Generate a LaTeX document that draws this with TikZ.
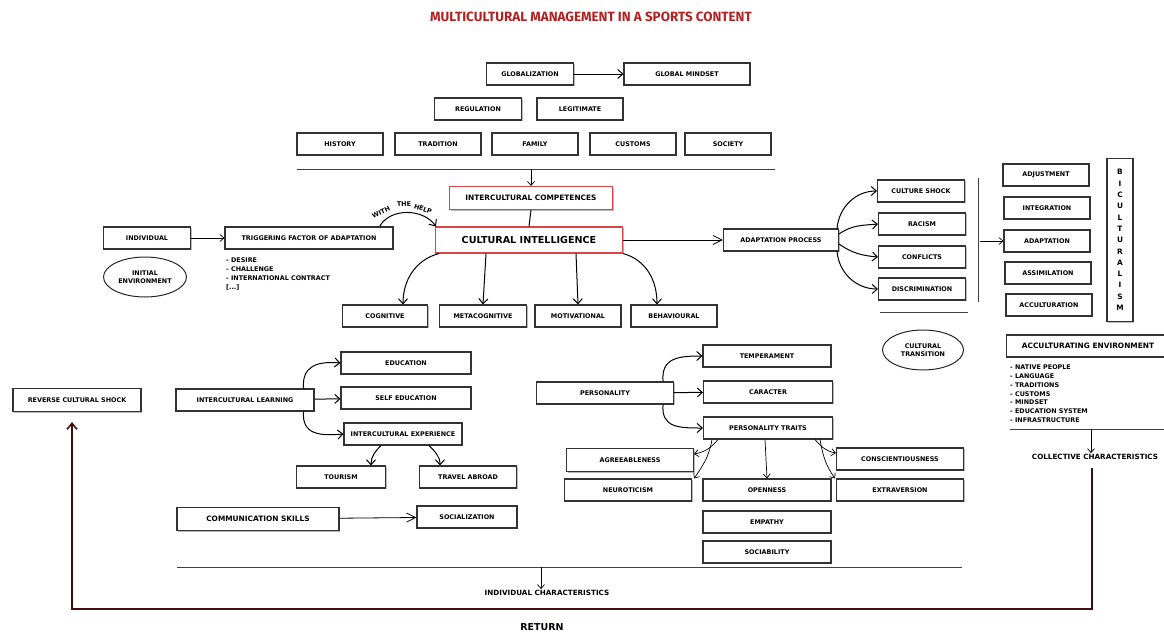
\documentclass[tikz,border=0pt]{standalone}
\usepackage{fontspec}
\setmainfont{DejaVu Sans}
\newfontfamily\titlefont{Fira Sans}
\usetikzlibrary{arrows.meta,shapes.geometric,shadows}
\definecolor{titlered}{RGB}{178,34,34}
\definecolor{boxred}{RGB}{214,70,70}
\definecolor{retred}{RGB}{70,12,12}
\newcommand{\bxf}{\bfseries\fontsize{6.4}{7.6}\selectfont}
\newcommand{\bgf}{\bfseries\fontsize{7.4}{9}\selectfont}
\newcommand{\bhf}{\bfseries\fontsize{9.6}{11}\selectfont}

\begin{document}
\begin{tikzpicture}[x=1pt,y=1pt,
  box/.style={draw=black!80, fill=white, line width=1.1pt, minimum height=22pt, minimum width=86pt, inner sep=1pt, font=\bxf, drop shadow={shadow xshift=1.4pt, shadow yshift=-1.4pt, fill=black!55}},
  redbox/.style={box, draw=boxred},
  oval/.style={ellipse, draw=black!85, line width=1pt, minimum width=82pt, minimum height=40pt, inner sep=0pt, align=center, font=\bxf},
  sep/.style={draw=black!75, line width=1pt},
  arr/.style={line width=1pt, -{Straight Barb[length=5pt,width=9pt]}},
  tarr/.style={line width=0.7pt, -{Straight Barb[length=4pt,width=7pt]}},
  larr/.style={line width=0.8pt, -{Straight Barb[length=9pt,width=9pt]}},
  ret/.style={draw=retred, line width=1.6pt, -{Straight Barb[length=6pt,width=10pt]}},
  lst/.style={anchor=north west, align=left, inner sep=0pt}]
\useasboundingbox (0,0) rectangle (1164,-632);

\node[font=\titlefont\bfseries\fontsize{13.4}{15}\selectfont, text=titlered] (title) at (591,-17) {MULTICULTURAL MANAGEMENT IN A SPORTS CONTENT};

\node[box, minimum width=87pt] (glob) at (530,-74) {GLOBALIZATION};
\node[box, minimum width=126pt] (gmind) at (687,-74) {GLOBAL MINDSET};
\node[box, minimum width=87pt] (reg) at (478,-109) {REGULATION};
\node[box] (legit) at (580,-109) {LEGITIMATE};
\node[box] (hist) at (340,-144) {HISTORY};
\node[box] (trad) at (438,-144) {TRADITION};
\node[box] (fam) at (535,-144) {FAMILY};
\node[box] (cust) at (633,-144) {CUSTOMS};
\node[box] (socy) at (728,-144) {SOCIETY};
\draw[arr] (glob) -- (gmind);

\coordinate (topL) at (297,-169);
\coordinate (topR) at (775,-169);
\coordinate (topM) at (531,-169);
\draw[sep] (topL) -- (topR);

\node[redbox, minimum width=163pt, minimum height=23pt, font=\bgf] (ic) at (531,-198) {INTERCULTURAL COMPETENCES};
\node[redbox, minimum width=187pt, minimum height=26pt, font=\bhf] (ci) at (529,-240) {CULTURAL INTELLIGENCE};
\draw[tarr] (topM) -- (ic.north);
\draw[line width=1pt] (ic.south) -- (ci.north);

\node[box, minimum width=87pt] (indiv) at (147,-238) {INDIVIDUAL};
\node[box, minimum width=168pt] (trig) at (309,-238) {TRIGGERING FACTOR OF ADAPTATION};
\node[oval, minimum width=83pt] (initenv) at (145,-277) {INITIAL\\ENVIRONMENT};
\node[lst, font=\bfseries\fontsize{6.4}{9}\selectfont] (reasons) at (226,-258) {- DESIRE\\- CHALLENGE\\- INTERNATIONAL CONTRACT\\{[...]}};
\draw[tarr] (indiv) -- (trig);
\draw[arr] ([xshift=-14pt]trig.north east) to[out=60,in=125] ([xshift=1pt]ci.north west);
\node[font=\bxf, rotate=26, inner sep=0pt] (with) at (381,-212) {WITH};
\node[font=\bxf, rotate=3, inner sep=0pt] (the) at (404,-204) {THE};
\node[font=\bxf, rotate=-20, inner sep=0pt] (help) at (423,-209) {HELP};

\node[box, minimum width=85pt] (cog) at (385,-316) {COGNITIVE};
\node[box, minimum width=87pt] (meta) at (483,-316) {METACOGNITIVE};
\node[box] (mot) at (578,-316) {MOTIVATIONAL};
\node[box] (beh) at (674,-316) {BEHAVIOURAL};
\draw[arr] ([xshift=4pt]ci.south west) to[out=195,in=90] ([xshift=18pt]cog.north);
\draw[arr] ([xshift=-43pt]ci.south) -- (meta.north);
\draw[arr] ([xshift=47pt]ci.south) -- (mot.north);
\draw[arr] (ci.south east) to[out=-15,in=90] ([xshift=-17pt]beh.north);

\node[box, minimum width=115pt] (ap) at (781,-240) {ADAPTATION PROCESS};
\draw[larr] (ci) -- (ap);

\node[box, minimum width=87pt] (cs) at (921,-191) {CULTURE SHOCK};
\node[box, minimum width=87pt] (rac) at (922,-224) {RACISM};
\node[box, minimum width=87pt] (conf) at (922,-257) {CONFLICTS};
\node[box, minimum width=87pt] (disc) at (922,-289) {DISCRIMINATION};
\draw[arr] ([xshift=-2pt]ap.north east) to[out=85,in=180] (cs.west);
\draw[arr] ([yshift=6pt]ap.east) to[out=35,in=185] (rac.west);
\draw[arr] ([yshift=-4pt]ap.east) to[out=-35,in=175] (conf.west);
\draw[arr] ([xshift=-2pt]ap.south east) to[out=-85,in=180] (disc.west);

\coordinate (vtop) at (978,-178);
\coordinate (vbot) at (978,-302);
\coordinate (vmid) at (980,-241);
\draw[sep] (vtop) -- (vbot);
\coordinate (hl) at (880,-312);
\coordinate (hr) at (968,-312);
\draw[sep] (hl) -- (hr);
\node[oval, minimum width=81pt] (cultrans) at (923,-350) {CULTURAL\\TRANSITION};

\node[box] (adj) at (1046,-175) {ADJUSTMENT};
\node[box] (integ) at (1047,-208) {INTEGRATION};
\node[box] (adapt) at (1047,-241) {ADAPTATION};
\node[box] (assim) at (1048,-273) {ASSIMILATION};
\node[box] (accult) at (1049,-305) {ACCULTURATION};
\draw[tarr] (vmid) -- (adapt.west);
\node[box, minimum width=26pt, minimum height=163pt, align=center, font=\bfseries\fontsize{7.4}{11.3}\selectfont] (bicult) at (1120,-240) {B\\I\\C\\U\\L\\T\\U\\R\\A\\L\\I\\S\\M};

\node[box, minimum width=163pt, font=\bgf] (accenv) at (1088,-346) {ACCULTURATING ENVIRONMENT};
\node[lst, font=\bfseries\fontsize{6.4}{8.7}\selectfont] (envlist) at (1010,-365) {- NATIVE PEOPLE\\- LANGUAGE\\- TRADITIONS\\- CUSTOMS\\- MINDSET\\- EDUCATION SYSTEM\\- INFRASTRUCTURE};
\coordinate (cl) at (1010,-429);
\coordinate (cr) at (1170,-429);
\coordinate (cm) at (1091,-429);
\draw[sep] (cl) -- (cr);
\node[font=\bfseries\fontsize{7.2}{9}\selectfont, inner sep=1pt] (coll) at (1095,-457) {COLLECTIVE CHARACTERISTICS};
\draw[tarr] (cm) -- (cm |- coll.north);

\node[box, minimum width=128pt, minimum height=23pt] (rcs) at (77,-400) {REVERSE CULTURAL SHOCK};

\node[box, minimum width=138pt] (il) at (245,-400) {INTERCULTURAL LEARNING};
\node[box, minimum width=130pt] (edu) at (406,-363) {EDUCATION};
\node[box, minimum width=130pt] (se) at (406,-398) {SELF EDUCATION};
\node[box, minimum width=118pt] (ie) at (403,-434) {INTERCULTURAL EXPERIENCE};
\node[box, minimum width=89pt] (tour) at (341,-477) {TOURISM};
\node[box, minimum width=97pt] (trav) at (468,-477) {TRAVEL ABROAD};
\draw[arr] ([xshift=-11pt]il.north east) to[out=95,in=175,looseness=1.3] (edu.west);
\draw[arr] (il) -- (se);
\draw[arr] ([xshift=-11pt]il.south east) to[out=-95,in=185,looseness=1.3] (ie.west);
\draw[arr] ([xshift=-22pt]ie.south) to[out=225,in=90] ([xshift=30pt]tour.north);
\draw[arr] ([xshift=26pt]ie.south) to[out=-45,in=90] ([xshift=-28pt]trav.north);

\node[box, minimum width=162pt, minimum height=23pt, font=\bgf] (comm) at (258,-519) {COMMUNICATION SKILLS};
\node[box, minimum width=100pt] (socz) at (467,-517) {SOCIALIZATION};
\draw[larr] (comm) -- (socz);

\node[box, minimum width=137pt] (pers) at (605,-393) {PERSONALITY};
\node[box, minimum width=128pt] (temp) at (767,-356) {TEMPERAMENT};
\node[box, minimum width=129pt] (car) at (768,-392) {CARACTER};
\node[box, minimum width=129pt] (pt) at (768,-428) {PERSONALITY TRAITS};
\draw[arr] ([xshift=-11pt]pers.north east) to[out=95,in=180,looseness=1.3] (temp.west);
\draw[arr] (pers) -- (car);
\draw[arr] ([xshift=-11pt]pers.south east) to[out=-95,in=180,looseness=1.3] (pt.west);

\node[box, minimum width=127pt, minimum height=23pt] (agree) at (630,-460) {AGREEABLENESS};
\node[box, minimum width=127pt] (neuro) at (628,-490) {NEUROTICISM};
\node[box, minimum width=128pt] (open) at (767,-490) {OPENNESS};
\node[box, minimum width=127pt] (consc) at (900,-459) {CONSCIENTIOUSNESS};
\node[box, minimum width=127pt] (extr) at (900,-490) {EXTRAVERSION};
\node[box, minimum width=128pt] (emp) at (767,-522) {EMPATHY};
\node[box, minimum width=128pt] (socb) at (767,-552) {SOCIABILITY};
\draw[tarr] ([xshift=-50pt]pt.south) to[out=230,in=10] ([yshift=6pt]agree.east);
\draw[tarr] ([xshift=-56pt]pt.south) to[out=-100,in=55] ([xshift=2pt]neuro.north east);
\draw[tarr] ([xshift=-3pt]pt.south) -- (open.north);
\draw[tarr] ([xshift=47pt]pt.south) to[out=-50,in=170] ([yshift=6pt]consc.west);
\draw[tarr] ([xshift=52pt]pt.south) to[out=-80,in=125] ([xshift=-1pt]extr.north west);

\coordinate (bl) at (177,-567);
\coordinate (br) at (962,-567);
\coordinate (bm) at (541,-567);
\draw[sep] (bl) -- (br);
\node[font=\bfseries\fontsize{7.2}{9}\selectfont, inner sep=1pt] (indch) at (547,-593) {INDIVIDUAL CHARACTERISTICS};
\draw[tarr] (bm) -- (bm |- indch.north);

\coordinate (retcorner) at (72,-609);
\draw[ret] ([xshift=-3pt,yshift=-7pt]coll.south) |- (retcorner) -- ([xshift=-5pt,yshift=-10pt]rcs.south);
\node[font=\bfseries\fontsize{9.5}{11}\selectfont] (return) at (542,-627) {RETURN};
\end{tikzpicture}
\end{document}
